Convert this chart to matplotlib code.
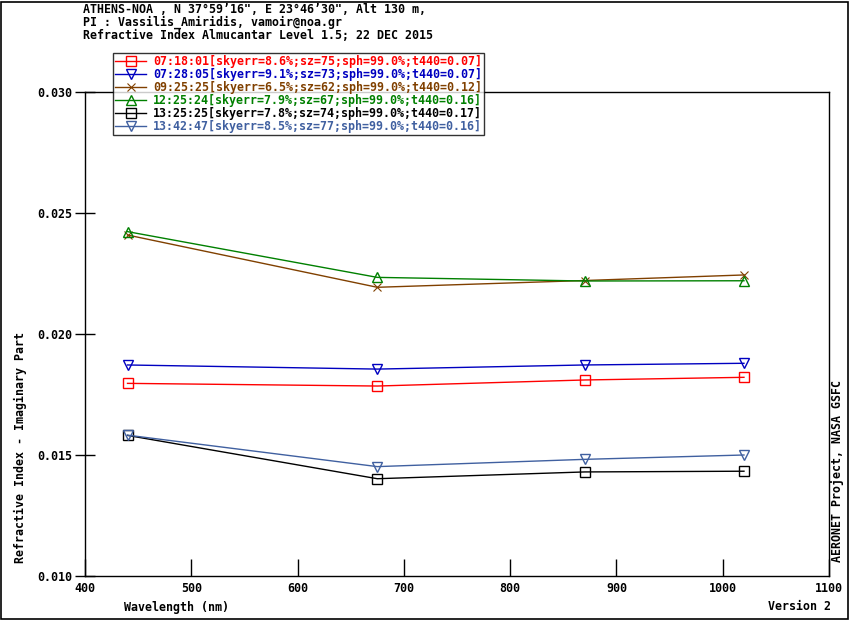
import matplotlib
matplotlib.use('Agg')
import matplotlib.pyplot as plt
from matplotlib.patches import Rectangle

# wavelengths (nm)
wavelengths = [440, 675, 870, 1020]

labels = [
    "07:18:01[skyerr=8.6%;sz=75;sph=99.0%;t440=0.07]",
    "07:28:05[skyerr=9.1%;sz=73;sph=99.0%;t440=0.07]",
    "09:25:25[skyerr=6.5%;sz=62;sph=99.0%;t440=0.12]",
    "12:25:24[skyerr=7.9%;sz=67;sph=99.0%;t440=0.16]",
    "13:25:25[skyerr=7.8%;sz=74;sph=99.0%;t440=0.17]",
    "13:42:47[skyerr=8.5%;sz=77;sph=99.0%;t440=0.16]",
]

# imaginary part of refractive index per scan
k_0718 = [0.01796, 0.01785, 0.01810, 0.01821]
k_0728 = [0.01872, 0.01855, 0.01872, 0.01879]
k_0925 = [0.02409, 0.02193, 0.02221, 0.02244]
k_1225 = [0.02423, 0.02234, 0.02219, 0.02220]
k_1325 = [0.01581, 0.01402, 0.01430, 0.01433]
k_1342 = [0.01582, 0.01452, 0.01482, 0.01500]

series = [k_0718, k_0728, k_0925, k_1225, k_1325, k_1342]
colors = ['#ff0000', '#0000c0', '#804000', '#008000', '#000000', '#4060a0']
markers = ['s', 'v', 'x', '^', 's', 'v']

font = 'DejaVu Sans Mono'
fs = 8.4

fig = plt.figure(figsize=(8.5, 6.2), dpi=100)
ax = fig.add_axes([85/850, 1-576/620, 744/850, 484/620])

for vals, c, m, lab in zip(series, colors, markers, labels):
    if m == 'x':
        ax.plot(wavelengths, vals, color=c, lw=1, marker=m, ms=6, mew=0.8, label=lab)
    else:
        ax.plot(wavelengths, vals, color=c, lw=1, marker=m, ms=6.5, mew=1,
                mfc='none', label=lab)

ax.set_xlim(400, 1100)
ax.set_ylim(0.010, 0.030)
ax.set_xticks(range(400, 1101, 100))
ax.set_yticks([0.010, 0.015, 0.020, 0.025, 0.030])
ax.set_yticklabels(['0.010', '0.015', '0.020', '0.025', '0.030'])
ax.tick_params(axis='x', direction='in', length=12, width=1, pad=4)
ax.tick_params(axis='y', direction='inout', length=14, width=1, pad=2)
for lab in ax.get_xticklabels() + ax.get_yticklabels():
    lab.set_fontfamily(font)
    lab.set_fontweight('bold')
    lab.set_fontsize(fs)
for sp in ax.spines.values():
    sp.set_linewidth(1)

leg = ax.legend(loc='upper left', bbox_to_anchor=(113/850, 1-53/620),
                bbox_transform=fig.transFigure, frameon=True, fancybox=False,
                borderpad=0.15, labelspacing=0.0, handlelength=2.7,
                handletextpad=0.6, borderaxespad=0,
                prop={'family': font, 'weight': 'bold', 'size': fs},
                labelcolor='linecolor')
leg.get_frame().set_edgecolor('black')
leg.get_frame().set_linewidth(1)

title_lines = [
    "ATHENS-NOA , N 37\u00b059\u201916\", E 23\u00b046\u201930\", Alt 130 m,",
    "PI : Vassilis_Amiridis, vamoir@noa.gr",
    "Refractive Index Almucantar Level 1.5; 22 DEC 2015",
]
for i, t in enumerate(title_lines):
    fig.text(83/850, 1-(9.5+13*i)/620, t, family=font, weight='bold', size=fs,
             va='center', ha='left')

fig.text(20/850, 1-563/620, "Refractive Index - Imaginary Part", family=font,
         weight='bold', size=fs, rotation=90, va='bottom', ha='center')
fig.text(838/850, 1-562/620, "AERONET Project, NASA GSFC", family=font,
         weight='bold', size=fs, rotation=90, va='bottom', ha='center')
fig.text(124/850, 1-607/620, "Wavelength (nm)", family=font, weight='bold',
         size=fs, va='center', ha='left')
fig.text(831/850, 1-607/620, "Version 2", family=font, weight='bold',
         size=fs, va='center', ha='right')

fig.patches.append(Rectangle((1/850, 1/620), 847/850, 617/620, fill=False,
                             edgecolor='black', lw=1.2,
                             transform=fig.transFigure, figure=fig))

fig.savefig('out.png', dpi=100)
